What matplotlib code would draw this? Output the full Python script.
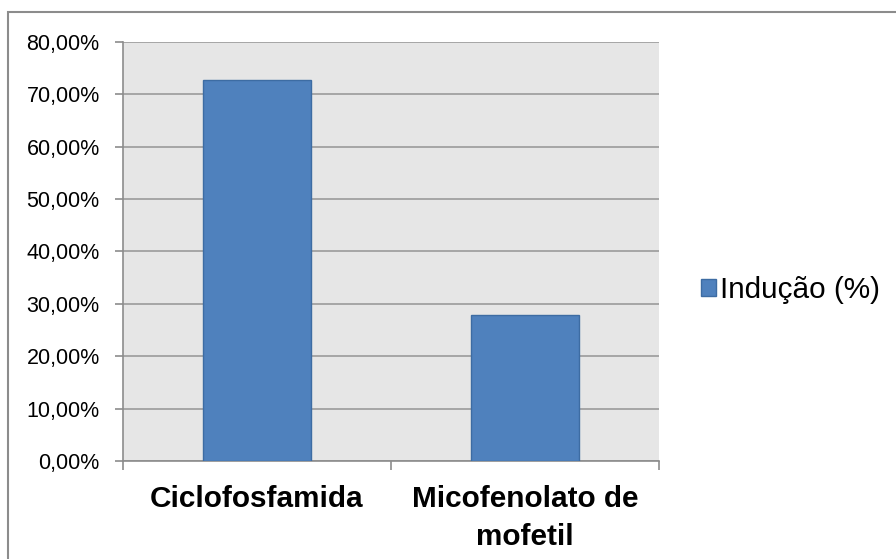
import matplotlib.pyplot as plt
from matplotlib.patches import Rectangle
from matplotlib.ticker import FuncFormatter, MultipleLocator

categories = ["Ciclofosfamida", "Micofenolato de\nmofetil"]
inducao = [72.7, 27.8]
series_name = "Indução (%)"

plt.rcParams["font.family"] = ["Liberation Sans", "DejaVu Sans"]

fig = plt.figure(figsize=(8.96, 5.59), dpi=100)
ax = fig.add_axes([123 / 896, 1 - 461 / 559, (659 - 123) / 896, (461 - 41.7) / 559])

ax.set_facecolor("#e6e6e6")
xs = list(range(len(categories)))
ax.bar(xs, inducao, width=0.4, color="#4f81bd", edgecolor="#3d6ca3",
       linewidth=1.0, label=series_name, zorder=3)

ax.set_xlim(-0.5, len(categories) - 0.5)
ax.set_ylim(0, 80)
ax.yaxis.set_major_locator(MultipleLocator(10))
ax.yaxis.set_major_formatter(FuncFormatter(lambda v, _: f"{v:.2f}%".replace(".", ",")))
ax.grid(axis="y", color="#a6a6a6", linewidth=1.4, zorder=1)

for side in ["top", "right"]:
    ax.spines[side].set_visible(False)
for side in ["left", "bottom"]:
    ax.spines[side].set_color("#8c8c8c")
    ax.spines[side].set_linewidth(1.2)

ax.tick_params(axis="y", length=5.8, width=1.2, color="#8c8c8c", labelsize=15.5, pad=11)

# category labels centred, tick marks on the category boundaries
ax.set_xticks(xs)
ax.set_xticklabels(categories, fontsize=21.4, fontweight="bold")
ax.set_xticks([x - 0.5 for x in range(len(categories) + 1)], minor=True)
ax.tick_params(axis="x", which="major", length=0, pad=17)
ax.tick_params(axis="x", which="minor", length=6.2, width=1.2, color="#8c8c8c")
for lbl in ax.get_xticklabels():
    lbl.set_linespacing(1.45)

fig.legend(loc="center left", bbox_to_anchor=(701 / 896, 1 - 290 / 559),
           frameon=False, fontsize=21.4, handlelength=0.5, handleheight=0.5,
           handletextpad=0.15, borderpad=0, borderaxespad=0)

# outer chart frame
fig.patches.append(Rectangle((8 / 896, -0.05), 1.1, 1.05 - 12 / 559,
                             transform=fig.transFigure, fill=False,
                             edgecolor="#8c8c8c", linewidth=1.5))

fig.savefig("out.png", dpi=100)
plt.close(fig)
